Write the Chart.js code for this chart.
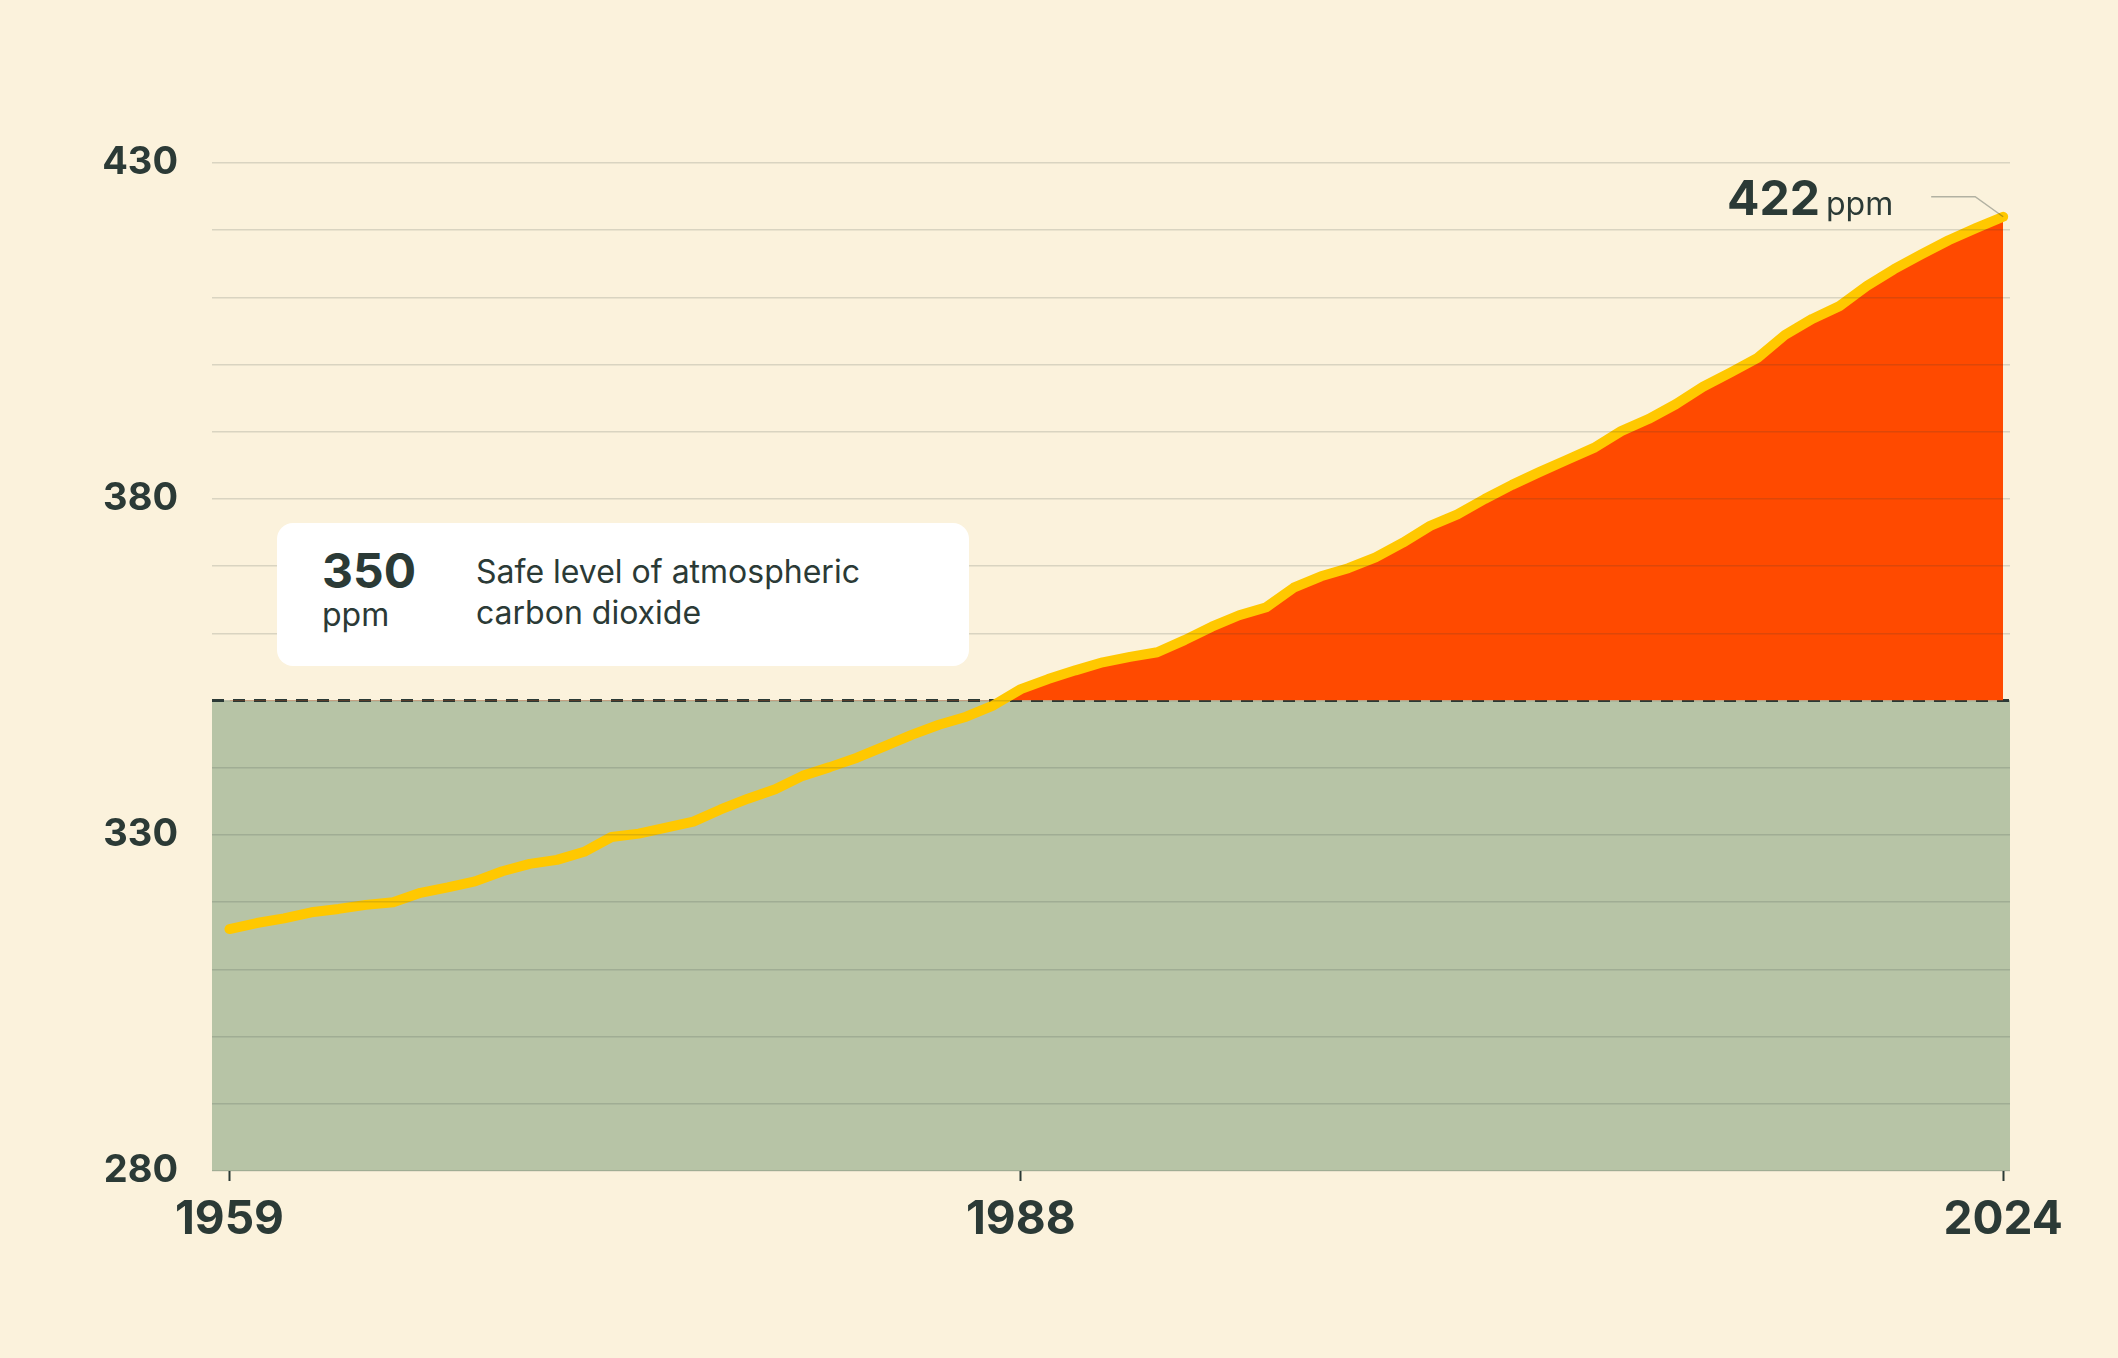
<!DOCTYPE html>
<html>
<head>
<meta charset="utf-8">
<script src="https://cdn.jsdelivr.net/npm/chart.js@4.4.1/dist/chart.umd.min.js"></script>
<style>
  html, body { margin: 0; padding: 0; background: #FBF2DC; }
  #wrap { position: relative; width: 2118px; height: 1358px; font-family: Inter, "Noto Sans", sans-serif; color: #2B3A36; }
  #co2Chart { position: absolute; left: 0; top: 0; }
  .note { position: absolute; left: 277px; top: 523px; width: 692px; height: 143px; background: #fff; border-radius: 16px; }
  .note .big { position: absolute; left: 45px; top: 18px; font-size: 48px; font-weight: 700; }
  .note .unit { position: absolute; left: 45px; top: 72px; font-size: 32px; }
  .note .txt { position: absolute; left: 199px; top: 28px; font-size: 32px; line-height: 41px; }
  .last { position: absolute; left: 1727px; top: 168px; white-space: nowrap; }
  .last b { font-size: 48px; font-weight: 700; }
  .last span { font-size: 32px; margin-left: 6px; }
</style>
</head>
<body>
<div id="wrap">
  <canvas id="co2Chart" width="2118" height="1358"></canvas>
  <div class="note">
    <div class="big">350</div>
    <div class="unit">ppm</div>
    <div class="txt">Safe level of atmospheric<br>carbon dioxide</div>
  </div>
  <div class="last"><b>422</b><span>ppm</span></div>
</div>
<script>
const years = [];
for (let y = 1959; y <= 2024; y++) years.push(y);

// annual mean CO2, ppm
const co2 = [316.0, 316.9, 317.6, 318.5, 319.0, 319.6, 320.0, 321.4, 322.2, 323.1,
  324.6, 325.7, 326.3, 327.5, 329.7, 330.2, 331.1, 332.0, 333.8, 335.4,
  336.8, 338.8, 340.1, 341.5, 343.2, 344.9, 346.4, 347.6, 349.3, 351.7,
  353.2, 354.5, 355.7, 356.5, 357.2, 359.0, 361.0, 362.7, 363.9, 366.8,
  368.5, 369.7, 371.3, 373.5, 376.0, 377.7, 380.0, 382.1, 384.0, 385.8,
  387.6, 390.1, 391.9, 394.1, 396.7, 398.8, 401.0, 404.4, 406.8, 408.7,
  411.7, 414.2, 416.4, 418.5, 420.3, 422.0];

const safeLevel = 350;
const xTicks = [1959, 1988, 2024];
const yTickLabels = [280, 330, 380, 430];

const dark = '#2B3A36';
const xMin = 1958.36, xMax = 2024.25;

const leader = {
  id: 'leader',
  afterDatasetsDraw(chart) {
    const { ctx, scales: { x, y } } = chart;
    const px = x.getPixelForValue(years[years.length - 1]);
    const py = y.getPixelForValue(co2[co2.length - 1]);
    ctx.save();
    ctx.strokeStyle = 'rgba(43,58,54,0.35)';
    ctx.lineWidth = 1.5;
    ctx.beginPath();
    ctx.moveTo(px - 72, py - 20);
    ctx.lineTo(px - 28, py - 20);
    ctx.lineTo(px, py);
    ctx.stroke();
    ctx.restore();
  }
};

new Chart(document.getElementById('co2Chart'), {
  type: 'line',
  data: {
    datasets: [
      {
        label: 'safe',
        data: [{ x: xMin, y: safeLevel }, { x: xMax, y: safeLevel }],
        borderColor: dark,
        borderWidth: 3,
        borderDash: [12, 9],
        pointRadius: 0,
        fill: 'start',
        backgroundColor: '#B7C4A6',
        order: 3
      },
      {
        label: 'CO2',
        data: years.map((yr, i) => ({ x: yr, y: co2[i] })),
        borderColor: '#FFC800',
        borderWidth: 10,
        borderJoinStyle: 'round',
        borderCapStyle: 'round',
        pointRadius: 0,
        tension: 0,
        fill: { target: { value: safeLevel }, above: '#FF4A00', below: 'rgba(0,0,0,0)' },
        order: 1
      }
    ]
  },
  options: {
    responsive: false,
    animation: false,
    events: [],
    layout: { padding: { top: 163, right: 108, left: 0, bottom: 0 } },
    plugins: { legend: { display: false }, tooltip: { enabled: false } },
    scales: {
      x: {
        type: 'linear',
        min: xMin,
        max: xMax,
        afterBuildTicks: s => { s.ticks = xTicks.map(v => ({ value: v })); },
        afterFit: s => { s.height = 187; },
        grid: { drawOnChartArea: false, color: dark, tickLength: 10, tickWidth: 2 },
        border: { display: false },
        ticks: {
          color: dark,
          padding: 12,
          font: { family: 'Inter', size: 46, weight: '700' },
          callback: v => String(v)
        }
      },
      y: {
        min: 280,
        max: 430,
        afterBuildTicks: s => {
          const t = [];
          for (let v = 280; v <= 430; v += 10) t.push({ value: v });
          s.ticks = t;
        },
        afterFit: s => { s.width = 212; },
        grid: { color: 'rgba(43,58,54,0.16)', lineWidth: 1.5, drawTicks: false, z: 1 },
        border: { display: false },
        ticks: {
          color: dark,
          padding: 34,
          autoSkip: false,
          font: { family: 'Inter', size: 38, weight: '700' },
          callback: v => yTickLabels.includes(v) ? String(v) : ''
        }
      }
    }
  },
  plugins: [leader]
});
</script>
</body>
</html>
